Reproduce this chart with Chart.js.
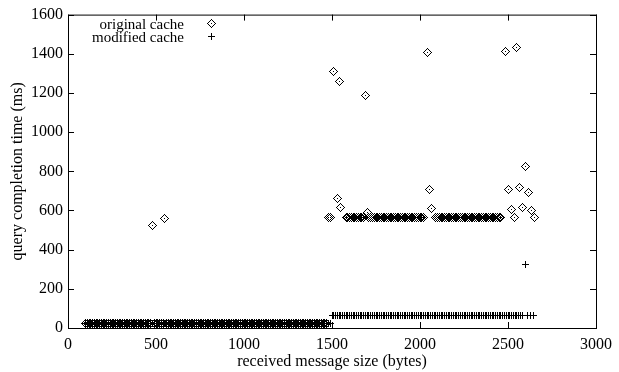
<!DOCTYPE html>
<html>
<head>
<meta charset="utf-8">
<script src="https://cdn.jsdelivr.net/npm/chart.js@4.4.0/dist/chart.umd.min.js"></script>
<style>
  html, body { margin: 0; padding: 0; background: #fff; }
  #wrap { width: 619px; height: 372px; }
</style>
</head>
<body>
<div id="wrap"><canvas id="c" width="619" height="372"></canvas></div>
<script>
// ---------------- data ----------------
const seriesNames = ["original cache", "modified cache"];

const origSizes = [
  100,110,120,130,140,150,160,170,180,190,
  200,210,220,230,240,250,260,270,280,290,
  300,310,320,330,340,350,360,370,380,390,
  400,410,420,430,440,450,460,470,480,490,
  500,510,520,530,540,550,560,570,580,590,
  600,610,620,630,640,650,660,670,680,690,
  700,710,720,730,740,750,760,770,780,790,
  800,810,820,830,840,850,860,870,880,890,
  900,910,920,930,940,950,960,970,980,990,
  1000,1010,1020,1030,1040,1050,1060,1070,1080,1090,
  1100,1110,1120,1130,1140,1150,1160,1170,1180,1190,
  1200,1210,1220,1230,1240,1250,1260,1270,1280,1290,
  1300,1310,1320,1330,1340,1350,1360,1370,1380,1390,
  1400,1410,1420,1430,1440,1450,1460,1470,1480,1490,
  1510,1530,1540,1550,1580,1590,
  1600,1610,1620,1630,1640,1650,1660,1670,1680,1690,
  1700,1710,1720,1730,1740,1750,1760,1770,1780,1790,
  1800,1810,1820,1830,1840,1850,1860,1870,1880,1890,
  1900,1910,1920,1930,1940,1950,1960,1970,1980,1990,
  2000,2010,2020,2040,2055,2065,2090,
  2100,2110,2120,2130,2140,2150,2160,2170,2180,2190,
  2200,2210,2220,2230,2240,2250,2260,2270,2280,2290,
  2300,2310,2320,2330,2340,2350,2360,2370,2380,2390,
  2400,2410,2420,2430,2440,2450,2460,
  2488,2504,2519,2536,2551,2568,2583,2600,2617,2631,2648
];
const origTimes = [
  22,22,22,22,22,22,22,22,22,22,
  22,22,22,22,22,22,22,22,22,22,
  22,22,22,22,22,22,22,22,22,22,
  22,22,22,22,22,22,22,22,522,22,
  22,22,22,22,22,560,22,22,22,22,
  22,22,22,22,22,22,22,22,22,22,
  22,22,22,22,22,22,22,22,22,22,
  22,22,22,22,22,22,22,22,22,22,
  22,22,22,22,22,22,22,22,22,22,
  22,22,22,22,22,22,22,22,22,22,
  22,22,22,22,22,22,22,22,22,22,
  22,22,22,22,22,22,22,22,22,22,
  22,22,22,22,22,22,22,22,22,22,
  22,22,22,22,22,22,22,22,566,566,
  1312,663,1259,613,566,566,
  566,566,566,566,566,566,566,566,566,1187,
  590,566,566,566,566,566,566,566,566,566,
  566,566,566,566,566,566,566,566,566,566,
  566,566,566,566,566,566,566,566,566,566,
  566,566,566,1409,707,610,566,
  566,566,566,566,566,566,566,566,566,566,
  566,566,566,566,566,566,566,566,566,566,
  566,566,566,566,566,566,566,566,566,566,
  566,566,566,566,566,566,566,
  1412,707,605,562,1432,719,615,824,692,598,562
];

const modSizes = [
  100,110,120,130,140,150,160,170,180,190,
  200,210,220,230,240,250,260,270,280,290,
  300,310,320,330,340,350,360,370,380,390,
  400,410,420,430,440,450,460,470,480,490,
  500,510,520,530,540,550,560,570,580,590,
  600,610,620,630,640,650,660,670,680,690,
  700,710,720,730,740,750,760,770,780,790,
  800,810,820,830,840,850,860,870,880,890,
  900,910,920,930,940,950,960,970,980,990,
  1000,1010,1020,1030,1040,1050,1060,1070,1080,1090,
  1100,1110,1120,1130,1140,1150,1160,1170,1180,1190,
  1200,1210,1220,1230,1240,1250,1260,1270,1280,1290,
  1300,1310,1320,1330,1340,1350,1360,1370,1380,1390,
  1400,1410,1420,1430,1440,1450,1460,1470,1480,1490,
  1500,1510,1520,1530,1540,1550,1560,1570,1580,1590,
  1600,1610,1620,1630,1640,1650,1660,1670,1680,1690,
  1700,1710,1720,1730,1740,1750,1760,1770,1780,1790,
  1800,1810,1820,1830,1840,1850,1860,1870,1880,1890,
  1900,1910,1920,1930,1940,1950,1960,1970,1980,1990,
  2000,2010,2020,2030,2040,2050,2060,2070,2080,2090,
  2100,2110,2120,2130,2140,2150,2160,2170,2180,2190,
  2200,2210,2220,2230,2240,2250,2260,2270,2280,2290,
  2300,2310,2320,2330,2340,2350,2360,2370,2380,2390,
  2400,2410,2420,2430,2440,2450,2460,2470,2480,2490,
  2500,2510,2520,2530,2540,2550,2560,2570,2580,2600,2612,2628,2645
];
const modTimes = [
  22,22,22,22,22,22,22,22,22,22,
  22,22,22,22,22,22,22,22,22,22,
  22,22,22,22,22,22,22,22,22,22,
  22,22,22,22,22,22,22,22,22,22,
  22,22,22,22,22,22,22,22,22,22,
  22,22,22,22,22,22,22,22,22,22,
  22,22,22,22,22,22,22,22,22,22,
  22,22,22,22,22,22,22,22,22,22,
  22,22,22,22,22,22,22,22,22,22,
  22,22,22,22,22,22,22,22,22,22,
  22,22,22,22,22,22,22,22,22,22,
  22,22,22,22,22,22,22,22,22,22,
  22,22,22,22,22,22,22,22,22,22,
  22,22,22,22,22,22,22,22,22,22,
  62,62,62,62,62,62,62,62,62,62,
  62,62,62,62,62,62,62,62,62,62,
  62,62,62,62,62,62,62,62,62,62,
  62,62,62,62,62,62,62,62,62,62,
  62,62,62,62,62,62,62,62,62,62,
  62,62,62,62,62,62,62,62,62,62,
  62,62,62,62,62,62,62,62,62,62,
  62,62,62,62,62,62,62,62,62,62,
  62,62,62,62,62,62,62,62,62,62,
  62,62,62,62,62,62,62,62,62,62,
  62,62,62,62,62,62,62,62,62,322,62,62,62
];

const xTicks = [0, 500, 1000, 1500, 2000, 2500, 3000];
const yTicks = [0, 200, 400, 600, 800, 1000, 1200, 1400, 1600];
const xTitle = "received message size (bytes)";
const yTitle = "query completion time (ms)";

// ---------------- markers ----------------
function makeDiamond() {
  const c = document.createElement('canvas');
  c.width = 9; c.height = 9;
  const g = c.getContext('2d');
  g.fillStyle = '#000';
  // pixel-crisp diamond outline with a centre dot
  const px = [[4,0],[5,1],[6,2],[7,3],[8,4],[7,5],[6,6],[5,7],[4,8],[3,7],[2,6],[1,5],[0,4],[1,3],[2,2],[3,1],[4,4]];
  px.forEach(p => g.fillRect(p[0], p[1], 1, 1));
  return c;
}
function makePlus() {
  const c = document.createElement('canvas');
  c.width = 9; c.height = 9;
  const g = c.getContext('2d');
  g.fillStyle = '#000';
  g.fillRect(1, 4, 7, 1);
  g.fillRect(4, 1, 1, 7);
  return c;
}
const diamondImg = makeDiamond();
const plusImg = makePlus();

const FONT = "'Liberation Serif', 'Times New Roman', Times, serif";
Chart.defaults.font.family = FONT;
Chart.defaults.font.size = 16;
Chart.defaults.color = '#000';

const framePlugin = {
  id: 'frame',
  beforeDatasetsDraw(chart) {
    chart.ctx.imageSmoothingEnabled = false;
  },
  afterDraw(chart) {
    const { ctx, chartArea: a, scales: { x, y } } = chart;
    ctx.save();
    ctx.strokeStyle = '#000';
    ctx.lineWidth = 1;
    ctx.strokeRect(a.left + 0.5, a.top + 0.5, a.right - a.left, a.bottom - a.top);
    const T = 6;
    ctx.beginPath();
    xTicks.forEach(v => {
      const px = Math.round(x.getPixelForValue(v)) + 0.5;
      ctx.moveTo(px, a.bottom); ctx.lineTo(px, a.bottom - T);
      ctx.moveTo(px, a.top); ctx.lineTo(px, a.top + T);
    });
    yTicks.forEach(v => {
      const py = Math.round(y.getPixelForValue(v)) + 0.5;
      ctx.moveTo(a.left, py); ctx.lineTo(a.left + T, py);
      ctx.moveTo(a.right, py); ctx.lineTo(a.right - T, py);
    });
    ctx.stroke();

    // gnuplot-style key (top-left, text right-aligned, symbol on the right)
    ctx.imageSmoothingEnabled = false;
    ctx.fillStyle = '#000';
    ctx.font = '15px ' + FONT;
    ctx.textAlign = 'right';
    ctx.textBaseline = 'alphabetic';
    ctx.fillText(seriesNames[0], 184, 29);
    ctx.fillText(seriesNames[1], 184, 41.5);
    ctx.drawImage(diamondImg, 207, 19);
    ctx.drawImage(plusImg, 207, 32);
    ctx.restore();
  }
};

new Chart(document.getElementById('c'), {
  type: 'scatter',
  data: {
    datasets: [
      {
        label: seriesNames[0],
        data: origSizes.map((s, i) => ({ x: s, y: origTimes[i] })),
        pointStyle: diamondImg,
        pointRadius: 4,
        showLine: false
      },
      {
        label: seriesNames[1],
        data: modSizes.map((s, i) => ({ x: s, y: modTimes[i] })),
        pointStyle: plusImg,
        pointRadius: 4,
        showLine: false
      }
    ]
  },
  options: {
    responsive: false,
    animation: false,
    devicePixelRatio: 1,
    events: [],
    layout: { padding: { top: 9, right: 16, left: 0, bottom: 0 } },
    plugins: { legend: { display: false }, tooltip: { enabled: false } },
    scales: {
      x: {
        type: 'linear', min: 0, max: 3000,
        grid: { display: false, drawTicks: false },
        border: { display: false },
        ticks: { stepSize: 500, padding: 7, color: '#000', font: { size: 16 }, callback: v => String(v) },
        afterBuildTicks(s) { s.ticks = xTicks.map(v => ({ value: v })); },
        afterFit(s) { s.height = 44; },
        title: { display: true, text: xTitle, color: '#000', font: { size: 16 }, padding: { top: 0, bottom: 1 } }
      },
      y: {
        type: 'linear', min: 0, max: 1600,
        grid: { display: false, drawTicks: false },
        border: { display: false },
        ticks: { stepSize: 200, padding: 5, color: '#000', font: { size: 16 }, callback: v => String(v) },
        afterBuildTicks(s) { s.ticks = yTicks.map(v => ({ value: v })); },
        afterFit(s) { s.width = 68; },
        title: { display: true, text: yTitle, color: '#000', font: { size: 16 }, padding: { top: 8, bottom: 0 } }
      }
    }
  },
  plugins: [framePlugin]
});
</script>
</body>
</html>
